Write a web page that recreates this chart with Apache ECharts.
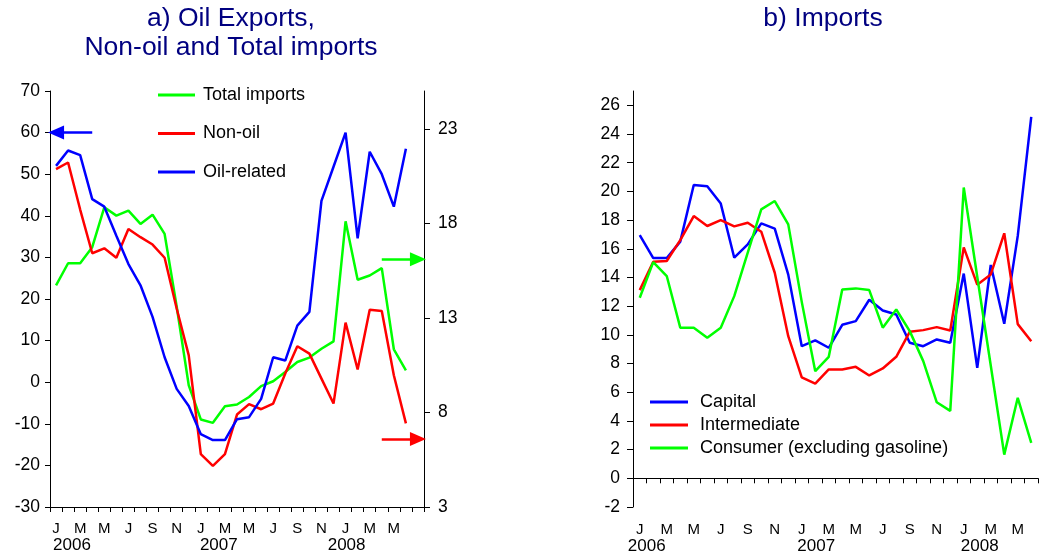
<!DOCTYPE html>
<html>
<head>
<meta charset="utf-8">
<script src="https://cdn.jsdelivr.net/npm/echarts@6/dist/echarts.min.js"></script>
<style>
html,body{margin:0;padding:0;background:#fff;}
#chart{width:1042px;height:557px;}
</style>
</head>
<body>
<div id="chart"></div>
<script>
// ---- Data (monthly, Jan 2006 - Jun 2008) ----
const months = ['2006-01','2006-02','2006-03','2006-04','2006-05','2006-06','2006-07','2006-08','2006-09','2006-10','2006-11','2006-12',
  '2007-01','2007-02','2007-03','2007-04','2007-05','2007-06','2007-07','2007-08','2007-09','2007-10','2007-11','2007-12',
  '2008-01','2008-02','2008-03','2008-04','2008-05','2008-06'];
const leftExtraMonth = ['2008-07'];
const monthLetters = ['J','F','M','A','M','J','J','A','S','O','N','D'];

// Panel a) (Oil-related on left axis, Non-oil and Total imports on right axis)
const totalImports = [14.72,15.89,15.89,16.74,18.85,18.41,18.67,17.97,18.46,17.44,13.6,9.44,7.63,7.45,8.33,8.42,8.82,9.39,9.65,10.14,10.67,10.9,11.37,11.76,18.11,15.02,15.24,15.63,11.34,10.23];
const nonOil = [20.87,21.22,18.73,16.42,16.68,16.18,17.7,17.27,16.88,16.18,13.5,11.02,5.8,5.18,5.8,7.89,8.44,8.17,8.47,10.06,11.5,11.11,9.79,8.47,12.75,10.27,13.43,13.36,9.97,7.42];
const oilRelated = [52.0,55.7,54.6,44.0,42.2,35.2,28.4,23.3,15.7,6.0,-1.6,-5.7,-12.5,-13.9,-13.9,-8.9,-8.4,-4.0,6.0,5.2,13.6,16.9,43.6,51.8,60.0,34.6,55.4,50.0,42.2,56.1];

// Panel b) Imports
const capital = [16.96,15.35,15.35,16.5,20.45,20.36,19.15,15.38,16.31,17.77,17.4,14.2,9.21,9.61,9.1,10.7,10.96,12.45,11.7,11.42,9.45,9.21,9.68,9.45,14.27,7.7,14.87,10.77,16.9,25.2];
const intermediate = [13.12,15.1,15.15,16.6,18.28,17.59,18.0,17.56,17.82,17.19,14.33,9.91,7.04,6.6,7.59,7.59,7.77,7.17,7.66,8.47,10.21,10.33,10.54,10.3,16.1,13.5,14.21,17.08,10.75,9.56];
const consumer = [12.59,15.07,14.1,10.5,10.5,9.8,10.5,12.7,15.73,18.75,19.33,17.7,12.3,7.47,8.47,13.17,13.24,13.12,10.5,11.77,10.26,8.17,5.3,4.7,20.27,14.05,7.86,1.65,5.61,2.47];

// Axis ticks
const leftTicksA = [-30,-20,-10,0,10,20,30,40,50,60,70];
const rightTicksA = [3,8,13,18,23];
const ticksB = [-2,0,2,4,6,8,10,12,14,16,18,20,22,24,26];

// Annotation arrows (axis values)
const arrowOil = {y: 60, from: 3, to: 0};
const arrowTotal = {y: 16.1, from: 27, to: 30};
const arrowNonOil = {y: 6.6, from: 27, to: 30};

// ---- Chart ----
const FONT = 'Liberation Sans, Arial, sans-serif';
const leftCats = months.concat(leftExtraMonth);
const rightCats = months.slice();

function makeFormatter(prefix, n) {
  return function (val, idx) {
    if (idx >= n) return '';
    const m = parseInt(val.slice(5), 10) - 1;
    if (m % 2 !== 0) return '';
    let s = '{m|' + monthLetters[m] + '}';
    if (m === 0) s += '\n{' + prefix + val.slice(2, 4) + '|' + val.slice(0, 4) + '}';
    return s;
  };
}
const mStyle = {fontSize: 15, lineHeight: 16, color: '#000', fontFamily: FONT};
function yStyle(p) { return {fontSize: 17, lineHeight: 17, color: '#000', fontFamily: FONT, padding: [0, 0, 0, p]}; }

function arrowLine(a, color) {
  return {
    silent: true,
    symbol: ['none', 'none'],
    symbolSize: [14, 16],
    label: {show: false},
    lineStyle: {color: color, width: 2.5, type: 'solid'},
    emphasis: {disabled: true},
    animation: false,
    data: [[{coord: [a.from, a.y], symbol: 'none'}, {coord: [a.to, a.y], symbol: 'triangle'}]]
  };
}

const axisLineStyle = {show: true, lineStyle: {color: '#000', width: 1}};
const yLabel = {fontSize: 17.5, color: '#000', fontFamily: FONT};
const chart = echarts.init(document.getElementById('chart'), null, {renderer: 'canvas'});
const option = {
  animation: false,
  backgroundColor: '#fff',
  textStyle: {fontFamily: FONT},
  title: [
    {text: 'a) Oil Exports,\nNon-oil and Total imports', left: 231, top: 4, textAlign: 'center', padding: 0,
     textStyle: {fontSize: 26.5, lineHeight: 29, fontWeight: 'normal', color: '#000080', fontFamily: FONT}},
    {text: 'b) Imports', left: 823, top: 4, textAlign: 'center', padding: 0,
     textStyle: {fontSize: 26.5, lineHeight: 29, fontWeight: 'normal', color: '#000080', fontFamily: FONT}}
  ],
  legend: [
    {orient: 'vertical', left: 158, top: 85, padding: 0, itemWidth: 37, itemHeight: 3, itemGap: 18.5,
     textStyle: {fontSize: 18, lineHeight: 20, color: '#000', fontFamily: FONT, padding: [0, 0, 0, 3]},
     data: [{name: 'Total imports', icon: 'rect'}, {name: 'Non-oil', icon: 'rect'}, {name: 'Oil-related', icon: 'rect'}]},
    {orient: 'vertical', left: 650, top: 392, padding: 0, itemWidth: 38, itemHeight: 3, itemGap: 3,
     textStyle: {fontSize: 18, lineHeight: 20, color: '#000', fontFamily: FONT, padding: [0, 0, 0, 7]},
     data: [{name: 'Capital', icon: 'rect'}, {name: 'Intermediate', icon: 'rect'}, {name: 'Consumer (excluding gasoline)', icon: 'rect'}]}
  ],
  grid: [
    {left: 50, top: 91, width: 374, height: 416, outerBoundsMode: 'none', containLabel: false},
    {left: 633, top: 91, width: 405, height: 416, outerBoundsMode: 'none', containLabel: false}
  ],
  xAxis: [
    {gridIndex: 0, type: 'category', data: leftCats, position: 'bottom',
     axisLine: {show: true, onZero: false, lineStyle: {color: '#000', width: 1}},
     axisTick: {show: true, interval: 0, length: 5, lineStyle: {color: '#000'}},
     axisLabel: {interval: 0, margin: 14, formatter: makeFormatter('a', months.length),
       rich: {m: mStyle, a06: yStyle(32), a07: yStyle(36), a08: yStyle(2)}},
     splitLine: {show: false}},
    {gridIndex: 1, type: 'category', data: rightCats, position: 'bottom',
     axisLine: {show: false, onZero: false}, axisTick: {show: false},
     axisLabel: {interval: 0, margin: 15, formatter: makeFormatter('b', months.length),
       rich: {m: mStyle, b06: yStyle(14), b07: yStyle(29), b08: yStyle(32)}},
     splitLine: {show: false}},
    {gridIndex: 1, type: 'category', data: rightCats, position: 'top',
     axisLine: {show: true, onZero: true, lineStyle: {color: '#000', width: 1}},
     axisTick: {show: true, inside: true, interval: 0, length: 5, lineStyle: {color: '#000'}},
     axisLabel: {show: false}, splitLine: {show: false}}
  ],
  yAxis: [
    {gridIndex: 0, type: 'value', position: 'left', min: -30, max: 70, interval: 10,
     axisLine: axisLineStyle, axisTick: {show: true, length: 5, lineStyle: {color: '#000'}, customValues: leftTicksA},
     axisLabel: Object.assign({margin: 10, customValues: leftTicksA}, yLabel),
     splitLine: {show: false}},
    {gridIndex: 0, type: 'value', position: 'right', min: 3, max: 25, interval: 5,
     axisLine: axisLineStyle, axisTick: {show: true, length: 6, lineStyle: {color: '#000'}, customValues: rightTicksA},
     axisLabel: Object.assign({margin: 14, customValues: rightTicksA}, yLabel),
     splitLine: {show: false}},
    {gridIndex: 1, type: 'value', position: 'left', min: -2, max: 27, interval: 2,
     axisLine: axisLineStyle, axisTick: {show: true, length: 6, lineStyle: {color: '#000'}, customValues: ticksB},
     axisLabel: Object.assign({margin: 13, customValues: ticksB}, yLabel),
     splitLine: {show: false}}
  ],
  series: [
    {name: 'Total imports', type: 'line', xAxisIndex: 0, yAxisIndex: 1, data: totalImports,
     showSymbol: false, symbol: 'none', color: '#00ff00', lineStyle: {color: '#00ff00', width: 2.5},
     markLine: arrowLine(arrowTotal, '#00ff00')},
    {name: 'Non-oil', type: 'line', xAxisIndex: 0, yAxisIndex: 1, data: nonOil,
     showSymbol: false, symbol: 'none', color: '#ff0000', lineStyle: {color: '#ff0000', width: 2.5},
     markLine: arrowLine(arrowNonOil, '#ff0000')},
    {name: 'Oil-related', type: 'line', xAxisIndex: 0, yAxisIndex: 0, data: oilRelated,
     showSymbol: false, symbol: 'none', color: '#0000ff', lineStyle: {color: '#0000ff', width: 2.5},
     markLine: arrowLine(arrowOil, '#0000ff')},
    {name: 'Capital', type: 'line', xAxisIndex: 1, yAxisIndex: 2, data: capital,
     showSymbol: false, symbol: 'none', color: '#0000ff', lineStyle: {color: '#0000ff', width: 2.5}},
    {name: 'Intermediate', type: 'line', xAxisIndex: 1, yAxisIndex: 2, data: intermediate,
     showSymbol: false, symbol: 'none', color: '#ff0000', lineStyle: {color: '#ff0000', width: 2.5}},
    {name: 'Consumer (excluding gasoline)', type: 'line', xAxisIndex: 1, yAxisIndex: 2, data: consumer,
     showSymbol: false, symbol: 'none', color: '#00ff00', lineStyle: {color: '#00ff00', width: 2.5}}
  ]
};
chart.setOption(option);
</script>
</body>
</html>
